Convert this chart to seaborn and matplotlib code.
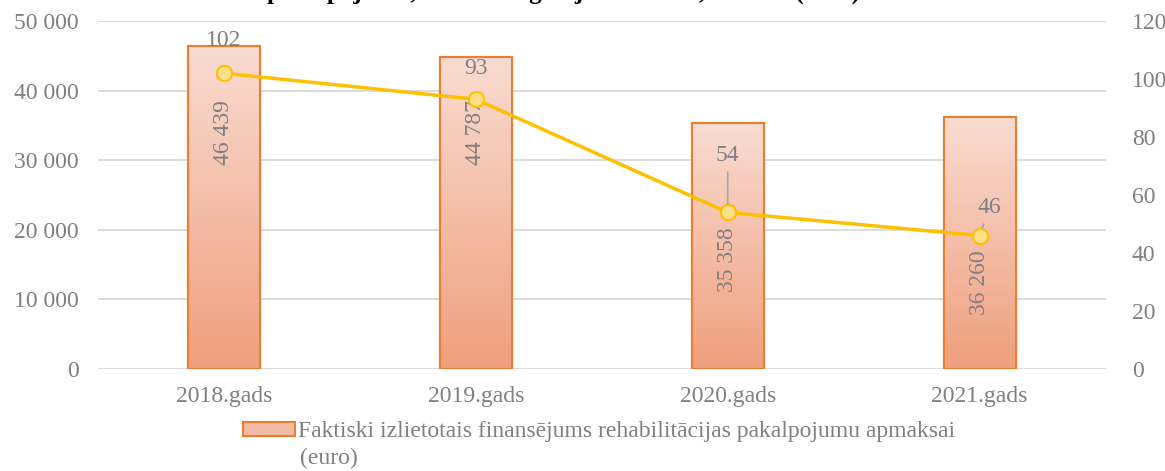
import numpy as np
import pandas as pd
import matplotlib
matplotlib.use("Agg")
import matplotlib.pyplot as plt
import matplotlib.patches as mpatches
from matplotlib.colors import LinearSegmentedColormap
from matplotlib.ticker import FuncFormatter, MultipleLocator
import seaborn as sns

# data
years = ["2018.gads", "2019.gads", "2020.gads", "2021.gads"]
funding = [46439, 44787, 35358, 36260]
cases = [102, 93, 54, 46]
bar_label = "Faktiski izlietotais finansējums rehabilitācijas pakalpojumu apmaksai"
bar_label_2 = "(euro)"
title = "pakalpojumu, atbalstīto gadījumu skaits, summa (euro)"

# label placement (fraction of bar height) and line label offsets (pixels)
bar_label_frac = [0.733, 0.759, 0.443, 0.341]
line_label_off = [(0, 33), (0, 31), (0, 57), (10, 28)]

GRAY = "#808080"
ORANGE = "#ED7D31"
YELLOW = "#FFC000"

sns.set_style("white")
plt.rcParams["font.family"] = ["Liberation Serif", "DejaVu Serif"]

df = pd.DataFrame({"year": years, "funding": funding, "cases": cases})

fig = plt.figure(figsize=(11.65, 4.71), dpi=100)
ax = fig.add_axes([0.084, 0.2166, 0.865, 0.7388])

sns.barplot(data=df, x="year", y="funding", ax=ax, width=0.286,
            color="#F4BBA4", edgecolor=ORANGE, linewidth=1.5, zorder=2)

# vertical gradient inside each bar
grad = LinearSegmentedColormap.from_list("g", ["#EF9F7D", "#F9DCD2"])
for p in ax.patches:
    x0, y0 = p.get_x(), p.get_y()
    w, h = p.get_width(), p.get_height()
    im = ax.imshow(np.linspace(0, 1, 256).reshape(-1, 1), cmap=grad, origin="lower",
                   extent=[x0, x0 + w, y0, y0 + h], aspect="auto", zorder=2.1)
    im.set_clip_path(p)
    ax.add_patch(mpatches.Rectangle((x0, y0), w, h, fill=False,
                                    edgecolor=ORANGE, linewidth=1.5, zorder=2.2))

ax.set_xlim(-0.5, 3.5)
ax.set_ylim(0, 50000)
ax.yaxis.set_major_locator(MultipleLocator(10000))
ax.yaxis.set_major_formatter(FuncFormatter(lambda v, _: f"{int(v):,}".replace(",", " ")))
ax.grid(axis="y", color="#D9D9D9", linewidth=1.3, zorder=0)
ax.set_axisbelow(True)
ax.set_xlabel("")
ax.set_ylabel("")
for s in ax.spines.values():
    s.set_visible(False)
ax.tick_params(axis="both", length=0, labelsize=17, colors=GRAY)
ax.tick_params(axis="x", pad=12)
ax.tick_params(axis="y", pad=14)

for i, v in enumerate(funding):
    ax.text(i, v * bar_label_frac[i], f"{v:,}".replace(",", " "), rotation=90,
            ha="center", va="center", color=GRAY, fontsize=17, zorder=5)

ax2 = ax.twinx()
sns.lineplot(x=np.arange(len(years)), y=cases, ax=ax2, color=YELLOW, linewidth=2.5,
             marker="o", markersize=11, markerfacecolor="#FFE08A",
             markeredgecolor=YELLOW, markeredgewidth=1.5, zorder=4)
ax2.set_ylim(0, 120)
ax2.yaxis.set_major_locator(MultipleLocator(20))
for s in ax2.spines.values():
    s.set_visible(False)
ax2.tick_params(axis="y", length=0, labelsize=17, colors=GRAY, pad=19)
ax2.set_ylabel("")

for i, v in enumerate(cases):
    dx, dy = line_label_off[i]
    arrow = None
    if dy > 40 or dx:
        arrow = dict(arrowstyle="-", color="#A6A6A6", lw=1.2, shrinkA=2, shrinkB=6)
    ax2.annotate(str(v), (i, v), xytext=(dx, dy), textcoords="offset pixels",
                 ha="center", va="center", color=GRAY, fontsize=17,
                 arrowprops=arrow, zorder=5)

handle = mpatches.Patch(facecolor="#F4BBA4", edgecolor=ORANGE, linewidth=1.5)
fig.legend([handle], [bar_label], loc="center left", bbox_to_anchor=(243 / 1165, 1 - 432 / 471),
           frameon=False, fontsize=17, labelcolor=GRAY, handlelength=2.2,
           handleheight=0.5, handletextpad=0.12, borderpad=0, borderaxespad=0)
fig.text(300 / 1165, 1 - 458 / 471, bar_label_2, ha="left", va="center",
         fontsize=17, color=GRAY)

# title line cut off at the top edge of the image
fig.text(0.484, 1.0 + 1.5 / 471, title, ha="center", va="baseline",
         fontsize=18, fontweight="bold", color="black")

fig.savefig("out.png", dpi=100)
